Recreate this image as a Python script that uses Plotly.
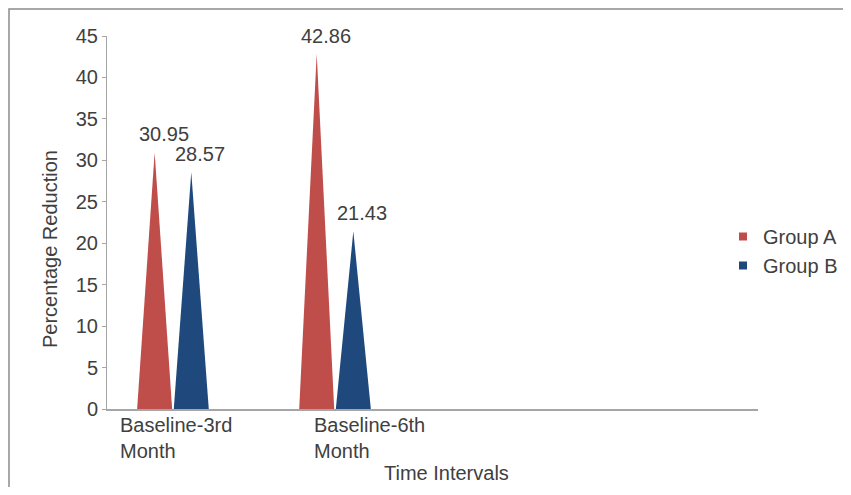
import plotly.graph_objects as go

categories = ["Baseline-3rd<br>Month", "Baseline-6th<br>Month"]
groups = ["Group A", "Group B"]
group_a = [30.95, 42.86]
group_b = [28.57, 21.43]
y_ticks = [0, 5, 10, 15, 20, 25, 30, 35, 40, 45]

colors = ["#BF4E4B", "#1F497D"]
series = [group_a, group_b]
offsets = [-0.113, 0.113]
half_w = 0.108
label_shift = [-0.342, -0.142]   # left edge of category label relative to category index

# page body adds an 8px margin on every side; keep the figure inside the viewport
W, H = 835, 479
ml, mr, mt, mb = 99, 85, 28, 78
pw = W - ml - mr
ph = H - mt - mb
TXT = "#404040"

fig = go.Figure()
for s, (name, vals, col, off) in enumerate(zip(groups, series, colors, offsets)):
    for i, v in enumerate(vals):
        c = i + off
        fig.add_trace(go.Scatter(
            x=[c - half_w, c, c + half_w, c - half_w],
            y=[0, v, 0, 0],
            mode="lines", fill="toself", fillcolor=col,
            line=dict(width=0, color=col), showlegend=False, hoverinfo="skip"))
        fig.add_annotation(x=c, y=v, xref="x", yref="y", text=f"{v:.2f}",
                           showarrow=False, xanchor="center", yanchor="bottom",
                           xshift=9, yshift=5, font=dict(size=20, color=TXT))
for name, col in zip(groups, colors):
    fig.add_trace(go.Scatter(x=[None], y=[None], mode="markers", name=name,
                             marker=dict(symbol="square", size=8, color=col)))

for i, cat in enumerate(categories):
    fig.add_annotation(x=i + label_shift[i], y=0, xref="x", yref="y",
                       text=cat, showarrow=False, xanchor="left", yanchor="top",
                       align="left", yshift=-3,
                       font=dict(size=20, color=TXT))

# axis titles
fig.add_annotation(x=(438 - ml) / pw, y=(H - mb - 465) / ph, xref="paper", yref="paper",
                   text="Time Intervals", showarrow=False, xanchor="center",
                   yanchor="middle", font=dict(size=20, color=TXT))
fig.add_annotation(x=(42 - ml) / pw, y=(H - mb - 241) / ph, xref="paper", yref="paper",
                   text="Percentage Reduction", showarrow=False, textangle=-90,
                   xanchor="center", yanchor="middle", font=dict(size=20, color=TXT))

fig.add_shape(type="rect", xref="paper", yref="paper",
              x0=(1 - ml) / pw, x1=(900 - ml) / pw,
              y0=(H - mb - 560) / ph, y1=(H - mb - 1) / ph,
              line=dict(color="#8C8C8C", width=1.5), fillcolor="rgba(0,0,0,0)",
              layer="below")

fig.update_layout(
    width=W, height=H,
    margin=dict(l=ml, r=mr, t=mt, b=mb, autoexpand=False),
    paper_bgcolor="white", plot_bgcolor="white",
    font=dict(family="Liberation Sans, Arial, sans-serif", size=20, color=TXT),
    xaxis=dict(range=[-0.407, 3.61], showticklabels=False, showgrid=False,
               zeroline=False, showline=True, linecolor="#A6A6A6", linewidth=2,
               ticks=""),
    yaxis=dict(range=[0, 45], tickvals=y_ticks, showgrid=False, zeroline=False,
               showline=True, linecolor="#A6A6A6", linewidth=1,
               ticks="outside", ticklen=4, tickcolor="#A6A6A6",
               tickfont=dict(size=20, color=TXT)),
    legend=dict(x=(715 - ml) / pw, y=(H - mb - 209) / ph, xanchor="left",
                yanchor="top", font=dict(size=20, color=TXT),
                bgcolor="rgba(0,0,0,0)", itemwidth=30, tracegroupgap=0),
)
fig.write_html("out.html")
